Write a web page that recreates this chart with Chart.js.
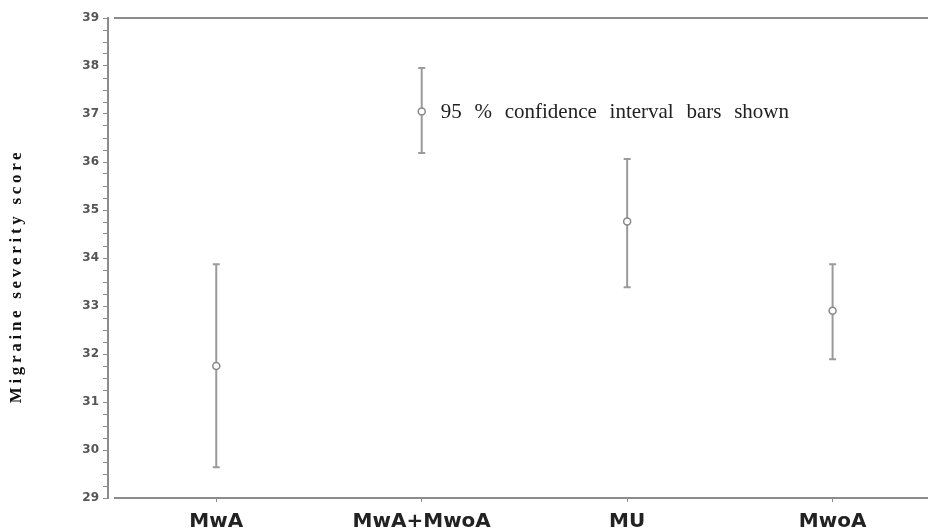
<!DOCTYPE html>
<html>
<head>
<meta charset="utf-8">
<script src="https://cdn.jsdelivr.net/npm/chart.js@4/dist/chart.umd.min.js"></script>
<style>
html,body{margin:0;padding:0;background:#fff;}
#wrap{width:928px;height:532px;position:relative;}
</style>
</head>
<body>
<div id="wrap"><canvas id="c" width="928" height="532"></canvas></div>
<script>
const categories = ["MwA", "MwA+MwoA", "MU", "MwoA"];
const means = [31.75, 37.05, 34.76, 32.9];
const upper = [33.87, 37.96, 36.06, 33.87];
const lower = [29.64, 36.19, 33.39, 31.89];
const yTicks = [29, 30, 31, 32, 33, 34, 35, 36, 37, 38, 39];
const yTitle = "Migraine severity score";
const note = "95 % confidence interval bars shown";

const errorBars = {
  id: 'errorBars',
  beforeDatasetsDraw(chart) {
    const {ctx, scales: {x, y}} = chart;
    ctx.save();
    ctx.strokeStyle = '#9a9a9a';
    ctx.lineWidth = 2;
    for (let i = 0; i < categories.length; i++) {
      const px = x.getPixelForValue(i);
      const pu = y.getPixelForValue(upper[i]);
      const pl = y.getPixelForValue(lower[i]);
      ctx.beginPath();
      ctx.moveTo(px, pu); ctx.lineTo(px, pl);
      ctx.moveTo(px - 3.5, pu); ctx.lineTo(px + 3.5, pu);
      ctx.moveTo(px - 3.5, pl); ctx.lineTo(px + 3.5, pl);
      ctx.stroke();
    }
    ctx.restore();
  },
  afterDraw(chart) {
    const {ctx, chartArea, scales: {x, y}} = chart;
    ctx.save();
    ctx.strokeStyle = '#8c8c8c';
    ctx.lineWidth = 2;
    ctx.beginPath();
    ctx.moveTo(chartArea.left + 6, chartArea.top);
    ctx.lineTo(chart.width, chartArea.top);
    ctx.moveTo(chartArea.left + 6, chartArea.bottom);
    ctx.lineTo(chart.width, chartArea.bottom);
    ctx.stroke();
    ctx.fillStyle = '#222';
    ctx.font = '21px "Liberation Serif", "Times New Roman", serif';
    ctx.textBaseline = 'middle';
    ctx.textAlign = 'left';
    try { ctx.wordSpacing = '7.5px'; } catch (e) {}
    ctx.fillText(note, x.getPixelForValue(1) + 19, y.getPixelForValue(means[1]) + 1);
    ctx.restore();
    ctx.save();
    ctx.fillStyle = '#111';
    ctx.font = 'bold 17px "Liberation Serif", "Times New Roman", serif';
    try { ctx.letterSpacing = '3.7px'; } catch (e) {}
    ctx.translate(17, (chartArea.top + chartArea.bottom) / 2 + 18);
    ctx.rotate(-Math.PI / 2);
    ctx.textAlign = 'center';
    ctx.textBaseline = 'middle';
    ctx.fillText(yTitle, 0, 0);
    ctx.restore();
  }
};

new Chart(document.getElementById('c'), {
  type: 'scatter',
  data: {
    datasets: [{
      data: means.map((m, i) => ({x: i, y: m})),
      pointStyle: 'circle',
      pointRadius: 3.5,
      pointHoverRadius: 3.5,
      backgroundColor: '#ffffff',
      borderColor: '#888888',
      borderWidth: 1.5
    }]
  },
  options: {
    responsive: false,
    animation: false,
    events: [],
    layout: {padding: {left: 0, top: 18, right: 0, bottom: 0}},
    plugins: {legend: {display: false}, tooltip: {enabled: false}},
    scales: {
      x: {
        type: 'linear',
        min: -0.527,
        max: 3.44,
        afterBuildTicks(scale) { scale.ticks = categories.map((c, i) => ({value: i})); },
        afterFit(scale) { scale.height = 34; },
        border: {display: false},
        grid: {drawOnChartArea: false, drawTicks: true, tickLength: 4, color: '#8c8c8c', lineWidth: 1},
        ticks: {
          autoSkip: false,
          maxRotation: 0,
          padding: 8,
          color: '#222',
          font: {family: '"DejaVu Sans", sans-serif', size: 20, weight: 'bold'},
          callback: (v) => categories[v] ?? ''
        }
      },
      y: {
        type: 'linear',
        min: yTicks[0],
        max: yTicks[yTicks.length - 1],
        afterFit(scale) { scale.width = 108; },
        border: {display: true, color: '#8c8c8c', width: 2},
        grid: {drawOnChartArea: false, drawTicks: true, tickLength: 5, color: '#8c8c8c', lineWidth: 1},
        ticks: {
          stepSize: 0.25,
          autoSkip: false,
          padding: 4,
          color: '#555',
          font: {family: '"DejaVu Sans", sans-serif', size: 12, weight: 'bold'},
          callback: (v) => yTicks.includes(v) ? String(v) : ''
        }
      }
    }
  },
  plugins: [errorBars]
});
</script>
</body>
</html>
